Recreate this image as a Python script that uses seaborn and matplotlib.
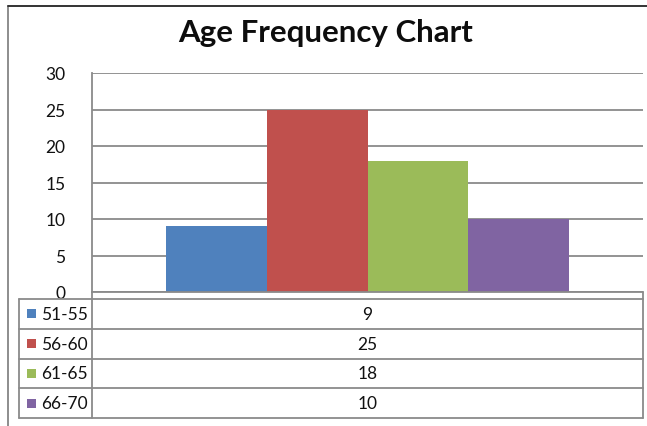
import matplotlib
matplotlib.use("Agg")
import matplotlib.pyplot as plt
from matplotlib.lines import Line2D
from matplotlib.patches import Rectangle
import pandas as pd
import seaborn as sns

# Chart data
age_groups = ["51-55", "56-60", "61-65", "66-70"]
counts = [9, 25, 18, 10]
colors = ["#4F81BD", "#C0504D", "#9BBB59", "#8064A2"]
y_ticks = [0, 5, 10, 15, 20, 25, 30]
title = "Age Frequency Chart"

W, H = 647, 427
sns.set_theme(style="white")
plt.rcParams["font.family"] = ["Lato", "DejaVu Sans"]

fig = plt.figure(figsize=(W / 100, H / 100), dpi=100)


def fx(x):
    return x / W


def fy(y):
    return 1 - y / H


# Plot area in pixel units
L, R, T, B = 92, 643, 74, 293
ax = fig.add_axes([fx(L), fy(B), fx(R) - fx(L), fy(T) - fy(B)])

df = pd.DataFrame({"cat": [""] * len(age_groups), "age": age_groups, "count": counts})
sns.barplot(data=df, x="cat", y="count", hue="age", hue_order=age_groups,
            palette=colors, width=0.73, saturation=1, linewidth=0,
            legend=False, ax=ax)

grid_c = "#8a8a8a"
ax.set_xlim(-0.5, 0.5)
ax.set_ylim(0, 30)
ax.set_yticks(y_ticks)
ax.set_yticklabels([str(t) for t in y_ticks], fontsize=12.5, color="#111111")
ax.tick_params(axis="y", length=0, pad=19)
ax.tick_params(axis="x", length=0, labelbottom=False)
ax.set_xlabel("")
ax.set_ylabel("")
ax.yaxis.grid(True, color=grid_c, linewidth=1.3)
ax.set_axisbelow(True)
for side in ["top", "right", "bottom"]:
    ax.spines[side].set_visible(False)
ax.spines["left"].set_color(grid_c)
ax.spines["left"].set_linewidth(1.3)

# Title
fig.text(fx(326), fy(33), title, ha="center", va="center",
         fontsize=22.5, fontweight="bold", color="#0d0d0d")


def hline(x0, x1, y, color=grid_c, lw=1.3):
    fig.add_artist(Line2D([fx(x0), fx(x1)], [fy(y), fy(y)], color=color,
                          linewidth=lw, transform=fig.transFigure))


def vline(x, y0, y1, color=grid_c, lw=1.3):
    fig.add_artist(Line2D([fx(x), fx(x)], [fy(y0), fy(y1)], color=color,
                          linewidth=lw, transform=fig.transFigure))


# Outer chart border
vline(8, 7, 430, color="#7a7a7a", lw=1.2)
hline(8, 650, 7, color="#333333", lw=1.4)

# Data table below the plot
tbl_left, tbl_top, row_h = 19, 300, 29.75
rows_y = [tbl_top + i * row_h for i in range(len(age_groups) + 1)]
hline(L, R, B)
for y in rows_y:
    hline(tbl_left, R, y)
vline(tbl_left, tbl_top, rows_y[-1])
vline(L, B, rows_y[-1])
vline(R, B, rows_y[-1])

for i, (label, val, col) in enumerate(zip(age_groups, counts, colors)):
    yc = rows_y[i] + row_h / 2
    fig.add_artist(Rectangle((fx(27), fy(yc + 4.5)), fx(9), fy(0) - fy(9),
                             facecolor=col, edgecolor="none",
                             transform=fig.transFigure))
    fig.text(fx(41), fy(yc), label, ha="left", va="center", fontsize=12.5,
             color="#111111")
    fig.text(fx((L + R) / 2), fy(yc), str(val), ha="center", va="center",
             fontsize=12.5, color="#111111")

fig.savefig("out.png", dpi=100)
